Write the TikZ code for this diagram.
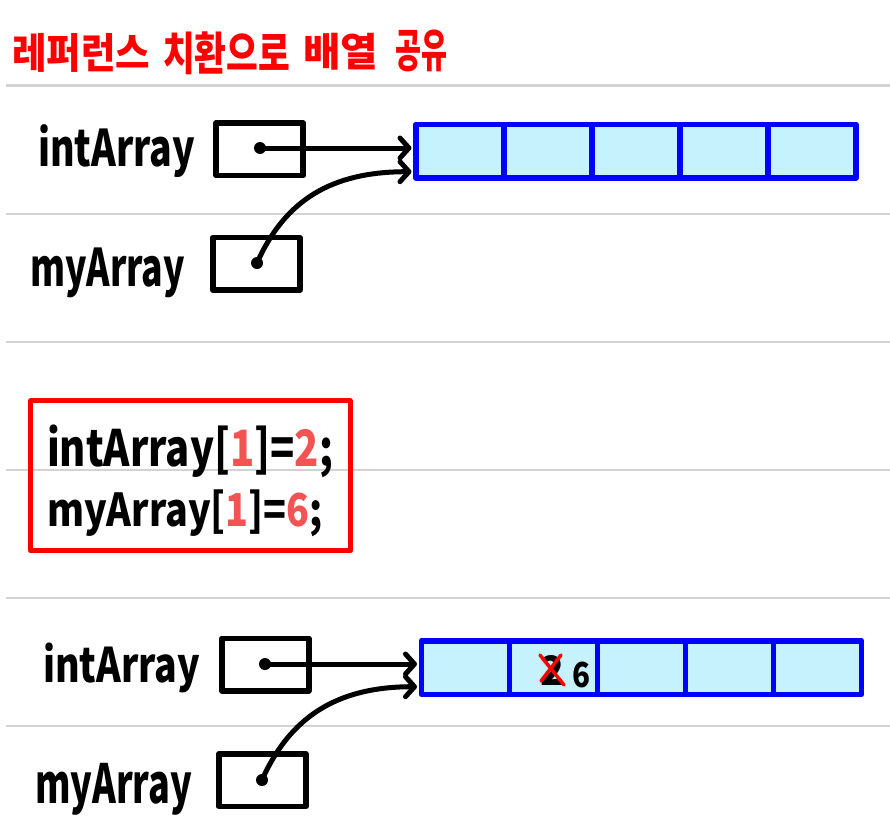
\documentclass[tikz,border=0pt]{standalone}
\usepackage{fontspec}
\usepackage{graphicx}
\newfontfamily\kr{Noto Sans CJK KR}
\usetikzlibrary{arrows.meta,calc}
\definecolor{rulegray}{RGB}{211,211,211}
\definecolor{arrblue}{RGB}{0,0,255}
\definecolor{arrfill}{RGB}{197,242,253}
\definecolor{hlred}{RGB}{242,84,84}
\definecolor{titlered}{RGB}{255,0,0}
\begin{document}
\begin{tikzpicture}[x=1pt,y=-1pt,
  rule/.style={draw=rulegray,line width=2.5pt},
  txt/.style={inner sep=0pt,outer sep=0pt,anchor=north west,font=\kr\bfseries},
  refbox/.style={draw=black,line width=5.5pt,rectangle,minimum width=87pt,minimum height=52.5pt,inner sep=0pt,outer sep=0pt,line join=round},
  dotn/.style={circle,fill=black,minimum size=12pt,inner sep=0pt},
  cell/.style={draw=arrblue,fill=arrfill,line width=5.5pt,minimum width=88pt,minimum height=53.5pt,inner sep=0pt,outer sep=0pt,anchor=west,line join=round},
  ptr/.style={line width=5pt,line cap=round,-{Straight Barb[length=9pt,width=20pt,round]}},
  codebox/.style={draw=titlered,line width=5pt,rectangle,minimum width=319.5pt,minimum height=150pt,inner sep=0pt,outer sep=0pt,line join=round}
]
\useasboundingbox[fill=white] (0,0) rectangle (890,827);

% ruled lines
\foreach \yy in {85.7,214,342,470,598,726}
  \draw[rule] (6,\yy) -- (890,\yy);

% title
\node[txt,text=titlered] (t1) at (12,33) {\resizebox*{138pt}{39pt}{레퍼런스}};
\node[txt,text=titlered] (t2) at (163,32) {\resizebox*{127pt}{43pt}{치환으로}};
\node[txt,text=titlered] (t3) at (303,33) {\resizebox*{75pt}{37pt}{배열}};
\node[txt,text=titlered] (t4) at (395,30) {\resizebox*{52pt}{42pt}{공유}};

% ---------- top section ----------
\node[txt] (l1) at (38,125) {\resizebox*{157pt}{53pt}{intArray}};
\node[txt] (l2) at (30,248) {\resizebox*{155pt}{50pt}{myArray}};
\node[refbox] (b1) at (259.7,149.2) {};
\node[refbox] (b2) at (256.3,263.8) {};
\node[dotn] (d1) at (260,148) {};
\node[dotn] (d2) at (257,263) {};
\node[cell] (a11) at (416,151.1) {};
\node[cell] (a12) at (a11.east) {};
\node[cell] (a13) at (a12.east) {};
\node[cell] (a14) at (a13.east) {};
\node[cell] (a15) at (a14.east) {};
\draw[ptr] (d1.center) -- ($(d1.center -| a11.west)+(-4.5,0)$);
\draw[ptr] (d2.center) .. controls +(28,-63) and +(-80,0) .. ($(a11.west)+(-4.5,20.6)$);

% ---------- code box ----------
\node[codebox] (cb) at (190.5,475.8) {};
\node[txt] (c1) at (47,425) {\resizebox*{286pt}{53pt}{intArray[\textcolor{hlred}{1}]=\textcolor{hlred}{2};}};
\node[txt] (c2) at (47,490) {\resizebox*{276pt}{47pt}{myArray[\textcolor{hlred}{1}]=\textcolor{hlred}{6};}};

% ---------- bottom section ----------
\node[txt] (l3) at (43,643) {\resizebox*{157pt}{50pt}{intArray}};
\node[txt] (l4) at (35,763) {\resizebox*{157pt}{52pt}{myArray}};
\node[refbox] (b3) at (265.3,664.5) {};
\node[refbox] (b4) at (262.3,780) {};
\node[dotn] (d3) at (265,664) {};
\node[dotn] (d4) at (262,780) {};
\node[cell] (a21) at (421.5,667.5) {};
\node[cell] (a22) at (a21.east) {};
\node[cell] (a23) at (a22.east) {};
\node[cell] (a24) at (a23.east) {};
\node[cell] (a25) at (a24.east) {};
\draw[ptr] (d3.center) -- ($(d3.center -| a21.west)+(-4.5,0)$);
\draw[ptr] (d4.center) .. controls +(28,-63) and +(-80,0) .. ($(a21.west)+(-4.5,19.2)$);

% changed value
\node[txt] (two) at (540,655) {\resizebox*{24pt}{30pt}{2}};
\node[txt] (six) at (572,662) {\resizebox*{18pt}{26pt}{6}};
\draw[titlered,line width=3.5pt,line cap=round] (two.north west) -- (two.south east);
\draw[titlered,line width=3.5pt,line cap=round] ($(two.north east)+(-3,0)$) -- ($(two.south west)+(1,-4)$);
\end{tikzpicture}
\end{document}
